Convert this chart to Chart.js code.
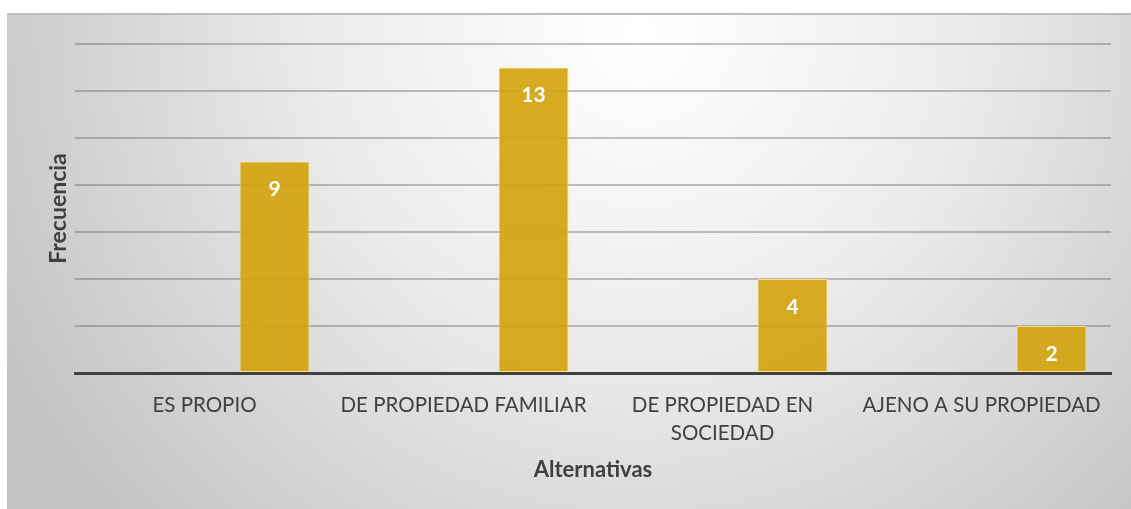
<!DOCTYPE html>
<html>
<head>
<meta charset="utf-8">
<script src="https://cdn.jsdelivr.net/npm/chart.js@4.4.0/dist/chart.umd.min.js"></script>
<style>
  html, body { margin: 0; padding: 0; background: #fff; }
  canvas { display: block; }
</style>
</head>
<body>
<canvas id="grafico" width="1131" height="509"></canvas>
<script>
// categorias del eje X (la tercera va en dos lineas)
const categorias = ['ES PROPIO', 'DE PROPIEDAD FAMILIAR', ['DE PROPIEDAD EN', 'SOCIEDAD'], 'AJENO A SU PROPIEDAD'];
// las dos primeras series estan vacias en el original, por eso la barra queda corrida a la derecha
const serieVacia1 = [null, null, null, null];
const serieVacia2 = [null, null, null, null];
const frecuencia = [9, 13, 4, 2];
const yMin = 0, yMax = 14, yPaso = 2;

const fondo = {
  id: 'fondo',
  beforeDraw(chart) {
    const ctx = chart.ctx;
    ctx.save();
    ctx.fillStyle = '#ffffff';
    ctx.fillRect(0, 0, chart.width, chart.height);
    const g = ctx.createRadialGradient(640, 30, 0, 640, 30, 720);
    g.addColorStop(0, '#ffffff');
    g.addColorStop(0.45, '#ebebeb');
    g.addColorStop(1, '#c3c3c3');
    ctx.fillStyle = g;
    ctx.fillRect(7, 13, chart.width - 7, chart.height - 13);
    ctx.fillStyle = '#bdbdbd';
    ctx.fillRect(7, 13, chart.width - 7, 2);
    ctx.restore();
  }
};

const etiquetas = {
  id: 'etiquetas',
  afterDatasetsDraw(chart) {
    const ctx = chart.ctx;
    const meta = chart.getDatasetMeta(2);
    ctx.save();
    ctx.font = 'bold 21px Lato';
    ctx.fillStyle = '#ffffff';
    ctx.textAlign = 'center';
    ctx.textBaseline = 'middle';
    meta.data.forEach((bar, i) => {
      ctx.fillText(String(frecuencia[i]), bar.x, bar.y + 28);
    });
    ctx.restore();
  }
};

const data = {
  labels: categorias,
  datasets: [
    { label: 'Serie 1', data: serieVacia1, backgroundColor: 'transparent' },
    { label: 'Serie 2', data: serieVacia2, backgroundColor: 'transparent' },
    {
      label: 'Frecuencia',
      data: frecuencia,
      backgroundColor: 'rgba(212,164,14,0.92)',
      borderColor: 'rgba(250,225,140,0.9)',
      borderWidth: 1,
      borderSkipped: false
    }
  ]
};

const config = {
  type: 'bar',
  data: data,
  options: {
    responsive: false,
    animation: false,
    layout: { padding: { top: 44, right: 20, left: 0, bottom: 0 } },
    datasets: {
      bar: { barPercentage: 1, categoryPercentage: 0.811 }
    },
    plugins: {
      legend: { display: false },
      title: { display: false },
      tooltip: { enabled: false }
    },
    scales: {
      x: {
        z: 1,
        afterFit: (scale) => { scale.height = 136; },
        grid: { display: false, drawTicks: false },
        border: { display: true, color: '#404040', width: 3 },
        ticks: {
          color: '#404040',
          padding: 18,
          maxRotation: 0,
          autoSkip: false,
          font: { family: 'Lato', size: 20.5, lineHeight: 1.38 }
        },
        title: {
          display: true,
          text: 'Alternativas',
          color: '#404040',
          padding: { top: 0, bottom: 26 },
          font: { family: 'Lato', size: 22, weight: 'bold', lineHeight: 1.2 }
        }
      },
      y: {
        min: yMin,
        max: yMax,
        afterFit: (scale) => { scale.width = 75; },
        grid: { color: 'rgba(80,80,80,0.34)', lineWidth: 2, drawTicks: false },
        border: { display: false },
        ticks: { display: false, stepSize: yPaso },
        title: {
          display: true,
          text: 'Frecuencia',
          color: '#404040',
          padding: { top: 45, bottom: 0 },
          font: { family: 'Lato', size: 23, weight: 'bold', lineHeight: 1.2 }
        }
      }
    }
  },
  plugins: [fondo, etiquetas]
};

new Chart(document.getElementById('grafico'), config);
</script>
</body>
</html>
